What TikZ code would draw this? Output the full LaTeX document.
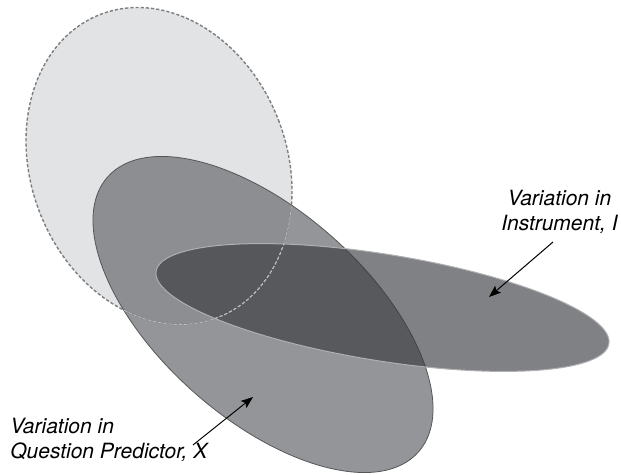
\documentclass[tikz,border=0pt]{standalone}
\usepackage{fontspec}
\setmainfont{TeX Gyre Heros}
\usetikzlibrary{arrows.meta}
\definecolor{lightfill}{RGB}{226,227,229}
\definecolor{dashcol}{RGB}{125,126,128}
\definecolor{dashlight}{RGB}{185,186,188}
\definecolor{xfill}{RGB}{113,116,120}
\definecolor{xline}{RGB}{85,86,88}
\definecolor{ifill}{RGB}{53,55,60}
\definecolor{iline}{RGB}{175,176,178}
\begin{document}
\begin{tikzpicture}[x=0.5pt,y=-0.5pt,
  lightE/.style={rotate around={21.1:(159,166)}},
  xE/.style={rotate around={-41.5:(263,314.5)}},
  iE/.style={rotate around={-9.1:(382.5,307.5)}},
  lbl/.style={font=\itshape\fontsize{10.5}{12.5}\selectfont, inner sep=0pt, text=black},
  pointer/.style={-{Stealth[length=6pt,width=4.5pt,inset=1.2pt]}, line width=0.5pt, black},
  dashpat/.style={dash pattern=on 1.6pt off 1pt}]
\useasboundingbox (0,0) rectangle (621,475);
% light ellipse
\fill[lightE, lightfill] (159,166) ellipse [x radius=128, y radius=162.5];
\draw[lightE, dashcol, line width=0.7pt, dashpat] (159,166) ellipse [x radius=128, y radius=162.5];
% question predictor ellipse
\fill[xE, xfill, fill opacity=0.76] (263,314.5) ellipse [x radius=207.5, y radius=104];
\draw[xE, xline, line width=0.4pt] (263,314.5) ellipse [x radius=207.5, y radius=104];
% instrument ellipse
\fill[iE, ifill, fill opacity=0.63] (382.5,307.5) ellipse [x radius=229.3, y radius=53.3];
\draw[iE, iline, line width=0.5pt] (382.5,307.5) ellipse [x radius=229.3, y radius=53.3];
% dashed outline seen through the darker ellipses
\begin{scope}
  \clip[xE] (263,314.5) ellipse [x radius=207.5, y radius=104];
  \draw[lightE, dashlight, line width=0.5pt, dashpat] (159,166) ellipse [x radius=128, y radius=162.5];
\end{scope}
\begin{scope}
  \clip[iE] (382.5,307.5) ellipse [x radius=229.3, y radius=53.3];
  \draw[lightE, dashlight, line width=0.5pt, dashpat] (159,166) ellipse [x radius=128, y radius=162.5];
\end{scope}
% labels
\node[lbl, align=center, anchor=north] (ilabel) at (559.5,190) {Variation in\\Instrument, I};
\node[lbl, align=left, anchor=north west] (xlabel) at (10,418) {Variation in\\Question Predictor, X};
\coordinate (itail) at (553,242);
\coordinate (ihead) at (489,297);
\coordinate (xtail) at (193,445);
\coordinate (xhead) at (253,397);
\draw[pointer] (itail) -- (ihead);
\draw[pointer] (xtail) -- (xhead);
\end{tikzpicture}
\end{document}
